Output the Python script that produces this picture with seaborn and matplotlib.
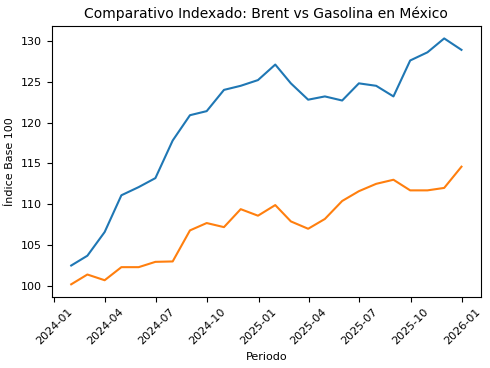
import matplotlib
matplotlib.use('Agg')
import matplotlib.pyplot as plt
import matplotlib.dates as mdates
import pandas as pd
import seaborn as sns

# month-end periods
periodos = pd.date_range('2024-01-31', '2025-12-31', freq='ME')

brent = [102.5, 103.7, 106.6, 111.1, 112.1, 113.2, 117.8, 120.9, 121.4, 124.0, 124.5, 125.2,
         127.1, 124.8, 122.8, 123.2, 122.7, 124.8, 124.5, 123.2, 127.6, 128.6, 130.3, 128.9]
gasolina = [100.2, 101.4, 100.7, 102.3, 102.3, 102.95, 103.0, 106.8, 107.7, 107.2, 109.4, 108.6,
            109.9, 107.9, 107.0, 108.2, 110.4, 111.6, 112.5, 113.0, 111.7, 111.7, 112.0, 114.6]

df = pd.DataFrame({'Periodo': periodos, 'Brent': brent, 'Gasolina': gasolina})

fig, ax = plt.subplots(figsize=(4.9, 3.68), dpi=100)
sns.lineplot(data=df, x='Periodo', y='Brent', ax=ax, color='#1f77b4')
sns.lineplot(data=df, x='Periodo', y='Gasolina', ax=ax, color='#ff7f0e')

ax.set_title('Comparativo Indexado: Brent vs Gasolina en México', fontsize=10)
ax.set_xlabel('Periodo', fontsize=8)
ax.set_ylabel('Índice Base 100', fontsize=8)
ax.xaxis.set_major_locator(mdates.MonthLocator(bymonth=[1, 4, 7, 10]))
ax.xaxis.set_major_formatter(mdates.DateFormatter('%Y-%m'))
ax.tick_params(axis='x', rotation=45, labelsize=8)
ax.tick_params(axis='y', labelsize=8)

plt.subplots_adjust(left=0.1055, right=0.9816, top=0.929, bottom=0.194)
plt.savefig('out.png')
